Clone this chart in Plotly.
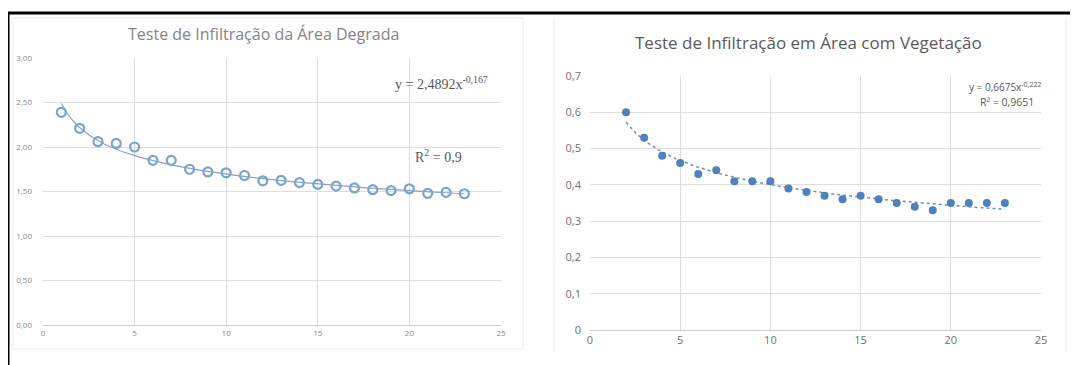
import numpy as np
import plotly.graph_objects as go

# ---- data: degraded area ----
x_deg = list(range(1, 24))
y_deg = [2.39, 2.21, 2.06, 2.04, 2.00, 1.85, 1.85, 1.75, 1.72, 1.71, 1.68, 1.62,
         1.625, 1.60, 1.58, 1.56, 1.54, 1.52, 1.51, 1.53, 1.48, 1.49, 1.475]
deg_coef, deg_exp = 2.4892, -0.167

# ---- data: vegetated area ----
x_veg = list(range(2, 24))
y_veg = [0.60, 0.53, 0.48, 0.46, 0.43, 0.44, 0.41, 0.41, 0.41, 0.39, 0.38, 0.37,
         0.36, 0.37, 0.36, 0.35, 0.34, 0.33, 0.35, 0.35, 0.35, 0.35]
veg_coef, veg_exp = 0.6675, -0.222

x_ticks = [0, 5, 10, 15, 20, 25]
deg_yticks = [0, 0.5, 1.0, 1.5, 2.0, 2.5, 3.0]
deg_ylabels = ["0,00", "0,50", "1,00", "1,50", "2,00", "2,50", "3,00"]
veg_yticks = [0, 0.1, 0.2, 0.3, 0.4, 0.5, 0.6, 0.7]
veg_ylabels = ["0", "0,1", "0,2", "0,3", "0,4", "0,5", "0,6", "0,7"]

W, H = 1086, 365
OFF = 7  # page offset compensation
def px(v): return (v - OFF) / W
def py(v): return 1 - (v - OFF) / H

fig = go.Figure()

xd = np.linspace(min(x_deg), max(x_deg), 200)
fig.add_trace(go.Scatter(x=xd, y=deg_coef * xd ** deg_exp, mode="lines",
                         line=dict(color="#8aa2bf", width=1.2), xaxis="x", yaxis="y",
                         hoverinfo="skip"))
fig.add_trace(go.Scatter(x=x_deg, y=y_deg, mode="markers",
                         marker=dict(symbol="circle-open", size=9, color="#7aa3d1",
                                     line=dict(width=2.2, color="#7aa3d1")),
                         xaxis="x", yaxis="y"))

xv = np.linspace(min(x_veg), max(x_veg), 200)
fig.add_trace(go.Scatter(x=xv, y=veg_coef * xv ** veg_exp, mode="lines",
                         line=dict(color="#6f8fb8", width=1.5, dash="dot"),
                         xaxis="x2", yaxis="y2", hoverinfo="skip"))
fig.add_trace(go.Scatter(x=x_veg, y=y_veg, mode="markers",
                         marker=dict(symbol="circle", size=8, color="#4f81bd"),
                         xaxis="x2", yaxis="y2"))

grid = "#dedede"
fig.update_layout(
    width=W, height=H, autosize=False,
    margin=dict(l=0, r=0, t=0, b=0, pad=0),
    paper_bgcolor="white", plot_bgcolor="white",
    showlegend=False,
    font=dict(family="Open Sans, Noto Sans, sans-serif", color="#8a8a8a"),
    xaxis=dict(domain=[px(42), px(500)], range=[0, 25], tickvals=x_ticks,
               showgrid=True, gridcolor=grid, zeroline=False, showline=True,
               linecolor="#d0d0d0", tickfont=dict(size=8, color="#8a8a8a"),
               ticks="", anchor="y", fixedrange=True, automargin=False),
    yaxis=dict(domain=[py(324), py(57)], range=[0, 3], tickvals=deg_yticks,
               ticktext=deg_ylabels, showgrid=True, gridcolor=grid, zeroline=False,
               showline=False, tickfont=dict(size=8, color="#8a8a8a"), ticks="",
               anchor="x", fixedrange=True, ticklabelstandoff=10, automargin=False),
    xaxis2=dict(domain=[px(589), px(1040)], range=[0, 25], tickvals=x_ticks,
                showgrid=True, gridcolor=grid, zeroline=False, showline=True,
                linecolor="#c8c8c8", tickfont=dict(size=11, color="#707070"),
                ticks="", anchor="y2", fixedrange=True, automargin=False),
    yaxis2=dict(domain=[py(329), py(75)], range=[0, 0.7], tickvals=veg_yticks,
                ticktext=veg_ylabels, showgrid=True, gridcolor=grid, zeroline=False,
                showline=False, tickfont=dict(size=11, color="#707070"), ticks="",
                anchor="x2", fixedrange=True, ticklabelstandoff=8, automargin=False),
)

fig.add_annotation(text="Teste de Infiltração da Área Degrada", xref="paper", yref="paper",
                   x=px(262), y=py(33), xanchor="center", yanchor="middle", showarrow=False,
                   font=dict(size=16, color="#858585"))
fig.add_annotation(text="Teste de Infiltração em Área com Vegetação", xref="paper", yref="paper",
                   x=px(807), y=py(42), xanchor="center", yanchor="middle", showarrow=False,
                   font=dict(size=17, color="#595959"))
fig.add_annotation(text="y = 2,4892x<sup>-0,167</sup>", xref="paper", yref="paper",
                   x=px(489), y=py(82), xanchor="right", yanchor="middle", showarrow=False,
                   font=dict(family="Liberation Serif, serif", size=14, color="#595959"))
fig.add_annotation(text="R<sup>2</sup> = 0,9", xref="paper", yref="paper",
                   x=px(463), y=py(155), xanchor="right", yanchor="middle", showarrow=False,
                   font=dict(family="Liberation Serif, serif", size=14, color="#595959"))
fig.add_annotation(text="y = 0,6675x<sup>-0,222</sup>", xref="paper", yref="paper",
                   x=px(1042), y=py(86), xanchor="right", yanchor="middle", showarrow=False,
                   font=dict(size=10, color="#595959"))
fig.add_annotation(text="R² = 0,9651", xref="paper", yref="paper",
                   x=px(1035), y=py(101), xanchor="right", yanchor="middle", showarrow=False,
                   font=dict(size=10.5, color="#595959"))

# frames
fig.add_shape(type="line", xref="paper", yref="paper", x0=px(6), x1=1, y0=py(12), y1=py(12),
              line=dict(color="black", width=3))
fig.add_shape(type="line", xref="paper", yref="paper", x0=px(7), x1=px(7), y0=py(12), y1=0,
              line=dict(color="black", width=3))
fig.add_shape(type="rect", xref="paper", yref="paper", x0=px(12), x1=px(522), y0=py(348), y1=py(17),
              line=dict(color="#ececec", width=1))
fig.add_shape(type="line", xref="paper", yref="paper", x0=px(553), x1=px(553), y0=py(352), y1=py(17),
              line=dict(color="#ececec", width=1))
fig.add_shape(type="line", xref="paper", yref="paper", x0=px(1065), x1=px(1065), y0=py(352), y1=py(17),
              line=dict(color="#ececec", width=1))

fig.write_html("out.html")
